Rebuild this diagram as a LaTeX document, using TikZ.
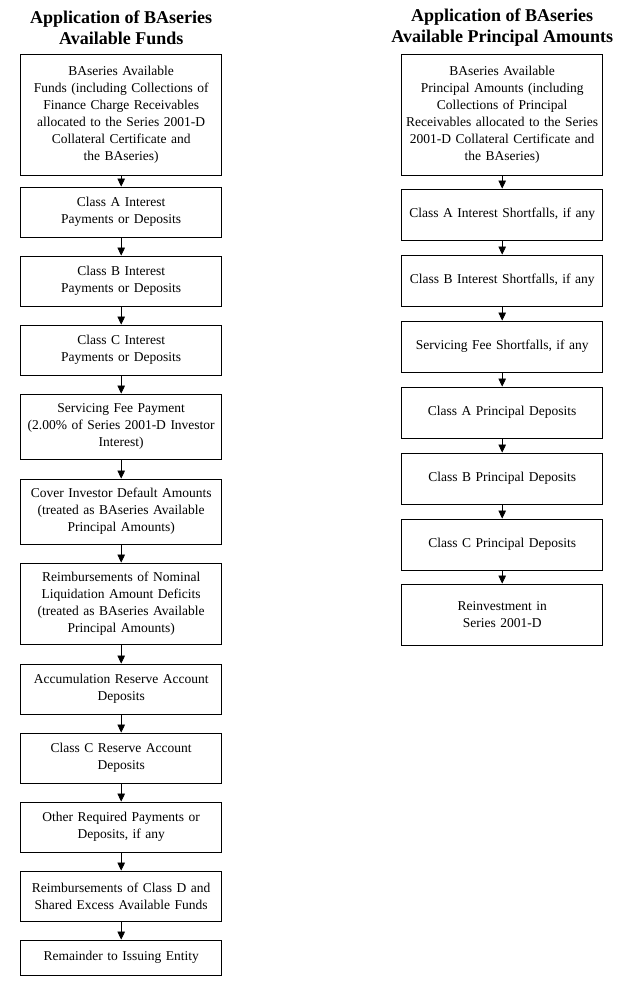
\documentclass[tikz,border=0pt]{standalone}
\usepackage{fontspec}
\setmainfont{Liberation Serif}
\usetikzlibrary{arrows.meta}
\begin{document}
\begin{tikzpicture}[x=1pt,y=-1pt,
  box/.style={draw, line width=0.8pt, minimum width=201pt, text width=196pt, align=center, inner sep=0pt, font=\fontsize{13.5}{17}\selectfont},
  ttl/.style={align=center, font=\fontsize{18}{21}\selectfont\bfseries},
  arr/.style={line width=0.7pt, -{Triangle[length=8pt,width=7.5pt]}}]
\useasboundingbox (0,0) rectangle (631,988);
\def\L{121.2}\def\R{502.2}
\newcommand\bx[5]{\node[box, minimum height=#4-#3] (#1) at (#2,{(#3+#4)/2}) {#5};}
\node[ttl] (tl) at (\L,28) {Application of BAseries\\Available Funds};
\node[ttl] (tr) at (\R,28) {Application of BAseries\\Available Principal Amounts};
\bx{l1}{\L}{54}{175}{BAseries Available\\Funds (including Collections of\\Finance Charge Receivables\\allocated to the Series 2001-D\\Collateral Certificate and\\the BAseries)}
\bx{l2}{\L}{187}{237}{Class A Interest\\Payments or Deposits}
\bx{l3}{\L}{256}{306}{Class B Interest\\Payments or Deposits}
\bx{l4}{\L}{325}{375}{Class C Interest\\Payments or Deposits}
\bx{l5}{\L}{394}{459}{Servicing Fee Payment\\(2.00\% of Series 2001-D Investor\\Interest)}
\bx{l6}{\L}{479}{544}{Cover Investor Default Amounts\\(treated as BAseries Available\\Principal Amounts)}
\bx{l7}{\L}{563}{644}{Reimbursements of Nominal\\Liquidation Amount Deficits\\(treated as BAseries Available\\Principal Amounts)}
\bx{l8}{\L}{664}{714}{Accumulation Reserve Account\\Deposits}
\bx{l9}{\L}{733}{783}{Class C Reserve Account\\Deposits}
\bx{l10}{\L}{802}{852}{Other Required Payments or\\Deposits, if any}
\bx{l11}{\L}{871}{921}{Reimbursements of Class D and\\Shared Excess Available Funds}
\bx{l12}{\L}{940}{975}{Remainder to Issuing Entity}
\bx{r1}{\R}{54}{175}{BAseries Available\\Principal Amounts (including\\Collections of Principal\\Receivables allocated to the Series\\2001-D Collateral Certificate and\\the BAseries)}
\bx{r2}{\R}{189}{240}{Class A Interest Shortfalls, if any}
\bx{r3}{\R}{255}{306}{Class B Interest Shortfalls, if any}
\bx{r4}{\R}{321}{372}{Servicing Fee Shortfalls, if any}
\bx{r5}{\R}{387}{438}{Class A Principal Deposits}
\bx{r6}{\R}{453}{504}{Class B Principal Deposits}
\bx{r7}{\R}{519}{570}{Class C Principal Deposits}
\bx{r8}{\R}{584}{645}{Reinvestment in\\Series 2001-D}
\foreach \a/\b in {l1/l2,l2/l3,l3/l4,l4/l5,l5/l6,l6/l7,l7/l8,l8/l9,l9/l10,l10/l11,l11/l12,r1/r2,r2/r3,r3/r4,r4/r5,r5/r6,r6/r7,r7/r8}
  \draw[arr] (\a.south) -- (\b.north);
\end{tikzpicture}
\end{document}
